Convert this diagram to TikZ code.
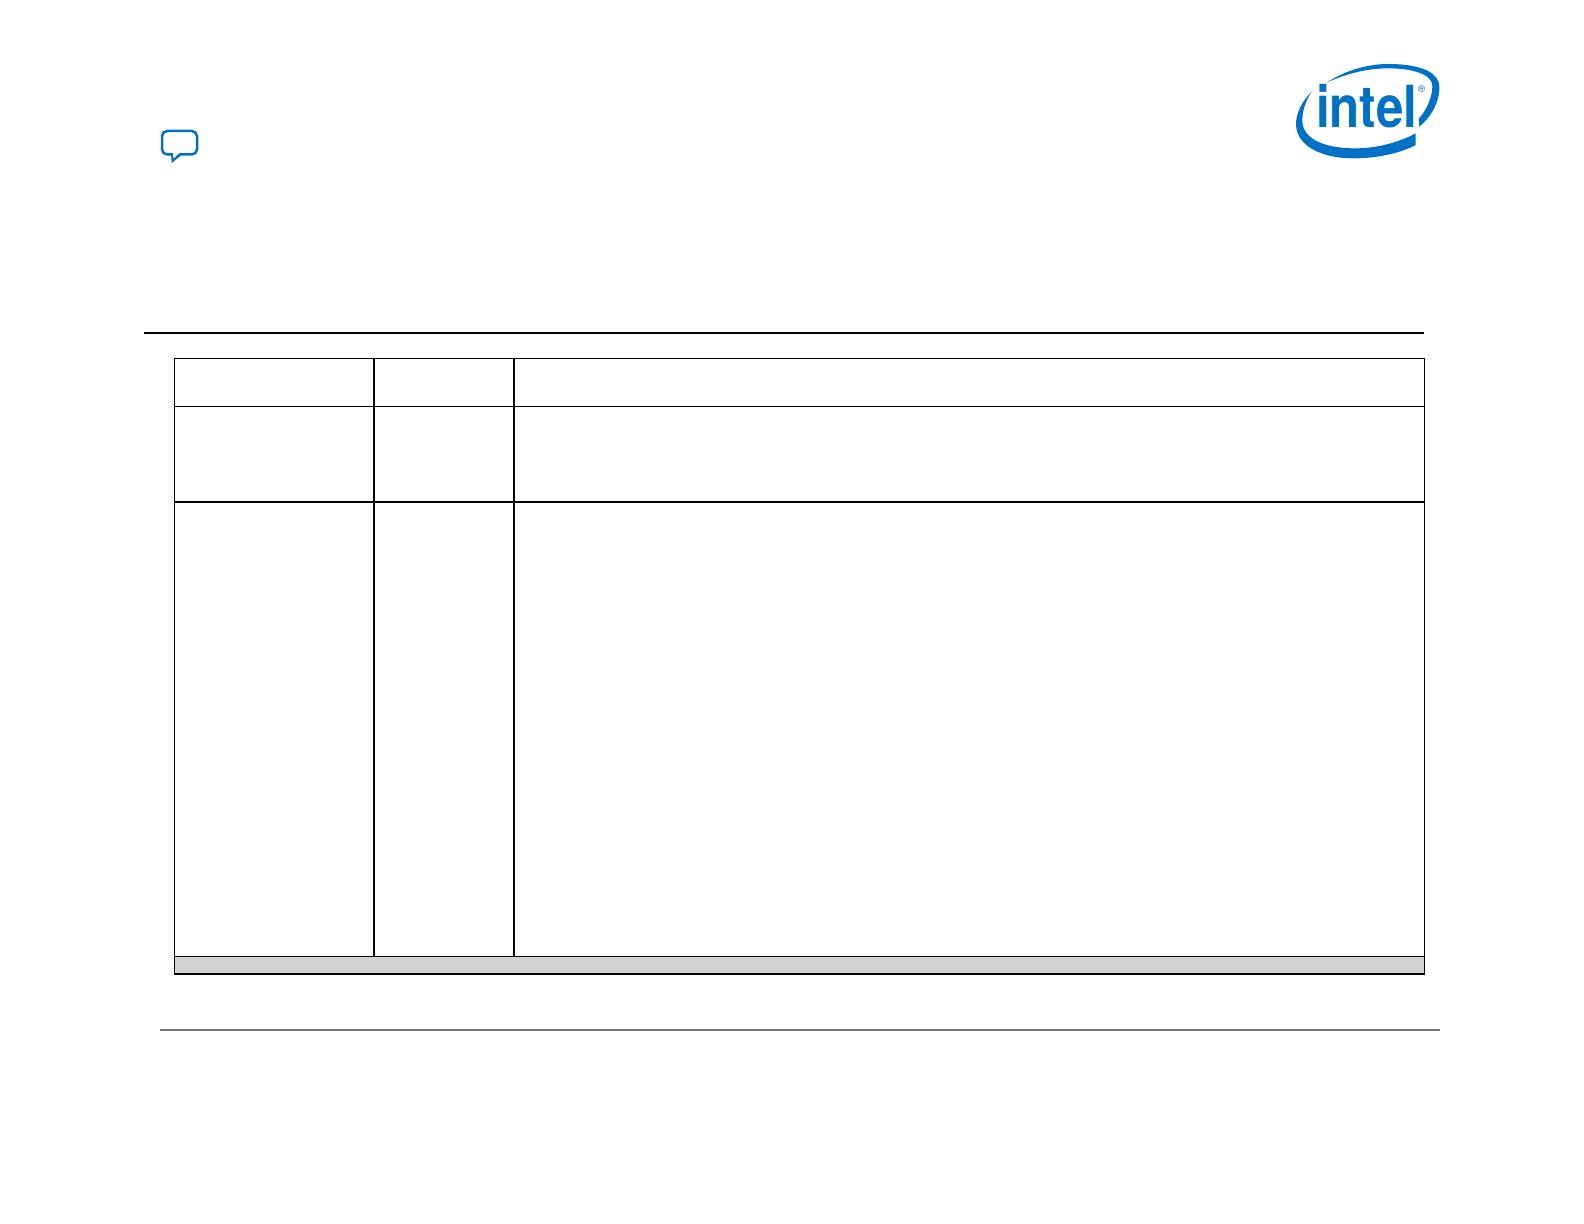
\documentclass[tikz,border=0pt]{standalone}
\usepackage{fontspec}
\setmainfont{TeX Gyre Heros}
\definecolor{intelblue}{HTML}{0071C5}
\definecolor{footgrey}{HTML}{D2D2D2}
\tikzset{
  tablerule/.style={line width=0.65pt,black,line cap=rect},
  headrule/.style={line width=1pt,black},
  footrule/.style={line width=0.55pt,black!55},
  swoosh/.style={fill=intelblue,draw=none},
  logotext/.style={inner sep=0pt,outer sep=0pt,text=intelblue,font=\bfseries\fontsize{29}{29}\selectfont,xscale=0.85,anchor=base west}
}
\begin{document}
\begin{tikzpicture}[x=0.5pt,y=-0.5pt]
\useasboundingbox (0,0) rectangle (1584,1224);
\fill[white] (0,0) rectangle (1584,1224);
% speech bubble
\draw[intelblue,line width=1.25pt,line join=round,rounded corners=2.6pt]
  (162,131) rectangle (197,154.5);
\fill[intelblue] (171,153.5) -- (171.7,163) -- (181,155.5) -- cycle;
\fill[white] (173,153) -- (173.4,158.5) -- (179.5,153) -- cycle;
% logo, in a scope using the zoomed coordinates
\begin{scope}[shift={(1260,50)},x=0.1667pt,y=-0.1667pt]
\fill[swoosh] (200,98) .. controls (255,62) and (320,42) .. (385,42)
  .. controls (470,42) and (538,62) .. (538,112)
  .. controls (538,160) and (510,205) .. (477,230) -- (477,205)
  .. controls (500,180) and (517,140) .. (517,108)
  .. controls (517,72) and (455,55) .. (385,55)
  .. controls (320,55) and (255,72) .. (200,98) -- cycle;
\fill[swoosh] (155,125) .. controls (125,155) and (108,190) .. (108,222)
  .. controls (108,285) and (180,325) .. (280,325)
  .. controls (350,325) and (420,310) .. (467,285) -- (467,250)
  .. controls (410,280) and (345,295) .. (285,295)
  .. controls (190,295) and (127,265) .. (127,212)
  .. controls (127,180) and (138,150) .. (155,125) -- cycle;
\end{scope}
\node[logotext] (intel) at (1316,127.5) {intel};
\node[inner sep=0pt,text=intelblue,font=\fontsize{5}{5}\selectfont] (reg) at (1421.5,89) {®};
% header rule
\draw[headrule] (143.5,333) -- (1424,333);
% table
\fill[footgrey] (174.3,956.3) rectangle (1424.7,974);
\draw[tablerule] (174.3,358.5) rectangle (1424.7,974);
\draw[tablerule] (174.3,406.3) -- (1424.7,406.3);
\draw[tablerule] (174.3,502) -- (1424.7,502);
\draw[tablerule] (174.3,956.3) -- (1424.7,956.3);
\draw[tablerule] (374,358.5) -- (374,956.3);
\draw[tablerule] (514,358.5) -- (514,956.3);
% footer rule
\draw[footrule] (160,1030) -- (1440,1030);
\end{tikzpicture}
\end{document}
